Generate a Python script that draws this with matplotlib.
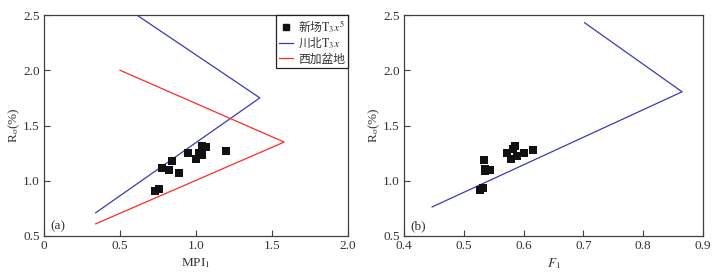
import matplotlib
matplotlib.use("Agg")
import matplotlib.pyplot as plt
from matplotlib.font_manager import FontProperties
from matplotlib.lines import Line2D

plt.rcParams['font.family'] = ['Liberation Serif', 'Noto Sans CJK SC', 'DejaVu Sans']
plt.rcParams['mathtext.fontset'] = 'stix'

# Panel (a) data
mpi1_x = [0.730, 0.757, 0.776, 0.825, 0.840, 0.891, 0.945, 1.002, 1.020, 1.038, 1.039, 1.042, 1.068, 1.197]
mpi1_ro = [0.911, 0.929, 1.113, 1.101, 1.183, 1.074, 1.255, 1.201, 1.255, 1.316, 1.231, 1.277, 1.304, 1.265]
chuanbei_a_x = [0.61, 1.42, 0.34]
chuanbei_a_y = [2.50, 1.75, 0.71]
xijia_x = [0.50, 1.58, 0.34]
xijia_y = [2.00, 1.35, 0.61]

# Panel (b) data
f1_x = [0.527, 0.532, 0.534, 0.536, 0.536, 0.543, 0.573, 0.579, 0.582, 0.586, 0.589, 0.600, 0.616]
f1_ro = [0.920, 0.937, 1.186, 1.110, 1.086, 1.100, 1.255, 1.200, 1.290, 1.316, 1.225, 1.255, 1.277]
chuanbei_b_x = [0.702, 0.865, 0.447]
chuanbei_b_y = [2.43, 1.805, 0.763]

labels = ["新场$\\mathrm{T_3}x^5$", "川北$\\mathrm{T_3}x$", "西加盆地"]
xticks_a = [0, 0.5, 1.0, 1.5, 2.0]
xticklabels_a = ["0", "0.5", "1.0", "1.5", "2.0"]
xticks_b = [0.4, 0.5, 0.6, 0.7, 0.8, 0.9]
yticks = [0.5, 1.0, 1.5, 2.0, 2.5]

BLUE = '#3a3ab4'
RED = '#ff2a2a'
FRAME = '#404040'
TXT = '#333333'

fig = plt.figure(figsize=(7.21, 2.74), dpi=100)
ax1 = fig.add_axes([44/721, 38/274, 304/721, 221/274])
ax2 = fig.add_axes([404/721, 38/274, 299/721, 221/274])

def style(ax):
    for s in ax.spines.values():
        s.set_color(FRAME)
        s.set_linewidth(0.9)
    ax.tick_params(direction='in', length=4, width=0.8, color=FRAME,
                   labelsize=9.5, labelcolor=TXT, pad=3)
    ax.set_yticks(yticks)
    ax.set_yticklabels([f"{v:.1f}" for v in yticks])
    ax.set_ylim(0.5, 2.5)
    ax.set_ylabel("R$_\\mathrm{o}$(%)", fontsize=9.5, color=TXT, labelpad=1)

# Panel (a)
ax1.plot(chuanbei_a_x, chuanbei_a_y, color=BLUE, lw=0.9, clip_on=True)
ax1.plot(xijia_x, xijia_y, color=RED, lw=0.9)
ax1.scatter(mpi1_x, mpi1_ro, marker='s', s=26, color='#111111', zorder=3, linewidths=0)
ax1.set_xlim(0, 2.0)
ax1.set_xticks(xticks_a)
ax1.set_xticklabels(xticklabels_a)
style(ax1)
ax1.set_xlabel("MPI$_1$", fontsize=9.5, color=TXT, labelpad=3)
ax1.text(0.022, 0.045, "(a)", transform=ax1.transAxes, fontsize=9.5, color=TXT,
         va='center', ha='left')

handles = [
    Line2D([], [], marker='s', ls='none', color='#111111', markersize=4.5),
    Line2D([], [], color=BLUE, lw=0.9),
    Line2D([], [], color=RED, lw=0.9),
]
leg = ax1.legend(handles, labels, loc='upper right', borderaxespad=0,
                 prop=FontProperties(family=['Noto Sans CJK SC'], size=8.5),
                 frameon=True, fancybox=False, handlelength=1.2, handletextpad=0.4,
                 borderpad=0.25, labelspacing=0.1, framealpha=1)
leg.get_frame().set_edgecolor('#222222')
leg.get_frame().set_linewidth(0.9)
for t in leg.get_texts():
    t.set_color(TXT)

# Panel (b)
ax2.plot(chuanbei_b_x, chuanbei_b_y, color=BLUE, lw=0.9)
ax2.scatter(f1_x, f1_ro, marker='s', s=26, color='#111111', zorder=3, linewidths=0)
ax2.set_xlim(0.4, 0.9)
ax2.set_xticks(xticks_b)
ax2.set_xticklabels([f"{v:.1f}" for v in xticks_b])
style(ax2)
ax2.set_xlabel("$F_1$", fontsize=9.5, color=TXT, labelpad=3)
ax2.text(0.022, 0.045, "(b)", transform=ax2.transAxes, fontsize=9.5, color=TXT,
         va='center', ha='left')

fig.savefig("out.png", dpi=100)
